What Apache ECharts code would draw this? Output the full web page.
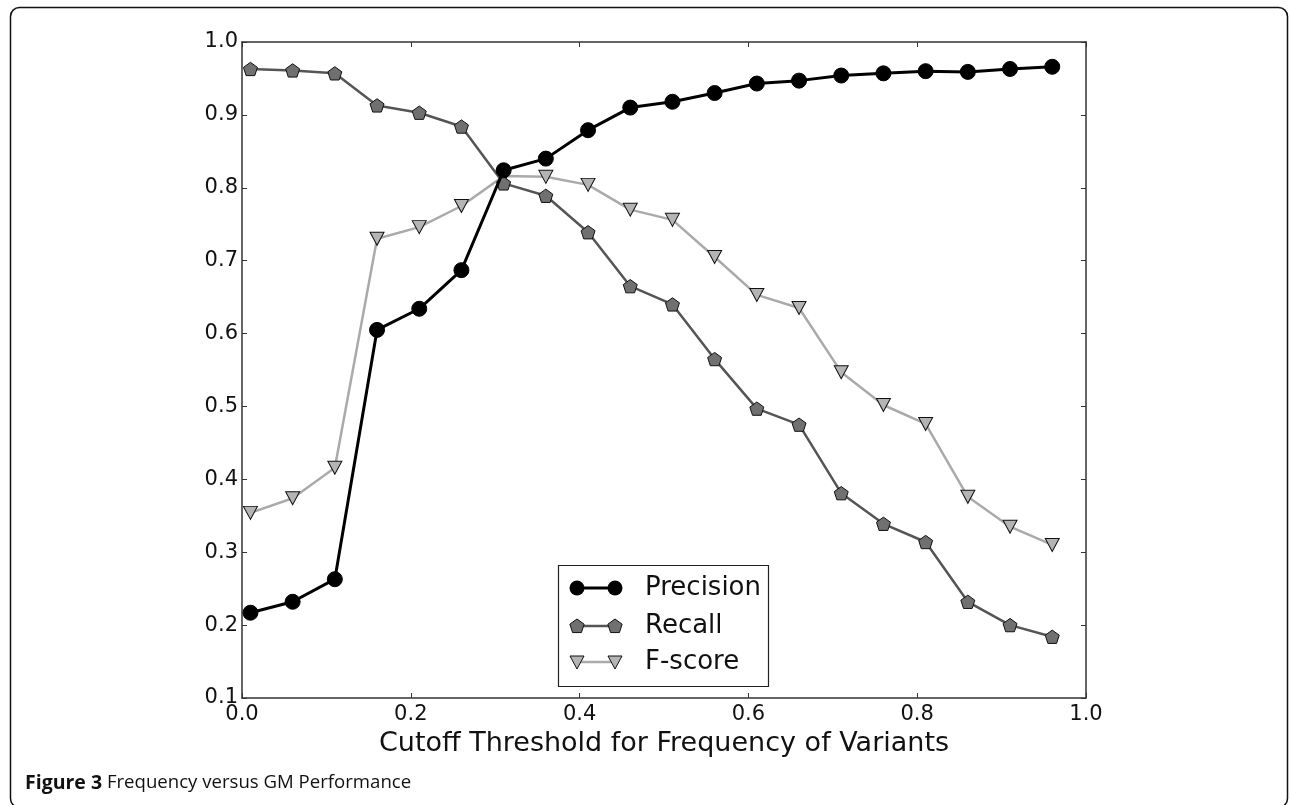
<!DOCTYPE html>
<html>
<head>
<meta charset="utf-8">
<script src="https://cdn.jsdelivr.net/npm/echarts@6/dist/echarts.min.js"></script>
<style>
html,body{margin:0;padding:0;background:#fff;}
#chart{width:1290px;height:805px;}
</style>
</head>
<body>
<div id="chart"></div>
<script>
// Data
var thresholds = [0.01,0.06,0.11,0.16,0.21,0.26,0.31,0.36,0.41,0.46,0.51,0.56,0.61,0.66,0.71,0.76,0.81,0.86,0.91,0.96];
var precision = [0.217,0.232,0.263,0.605,0.634,0.687,0.824,0.840,0.879,0.910,0.918,0.930,0.943,0.947,0.954,0.957,0.960,0.959,0.963,0.966];
var recall    = [0.963,0.961,0.957,0.913,0.903,0.884,0.806,0.789,0.739,0.665,0.640,0.565,0.497,0.475,0.381,0.339,0.314,0.232,0.200,0.184];
var fscore    = [0.354,0.374,0.416,0.730,0.746,0.775,0.816,0.815,0.804,0.770,0.756,0.705,0.653,0.635,0.547,0.502,0.476,0.376,0.335,0.310];
var xTicks = [0.0,0.2,0.4,0.6,0.8,1.0];
var yTicks = [0.1,0.2,0.3,0.4,0.5,0.6,0.7,0.8,0.9,1.0];
var seriesNames = ['Precision','Recall','F-score'];
var xTitle = 'Cutoff Threshold for Frequency of Variants';
var captionBold = 'Figure 3';
var captionText = 'Frequency versus GM Performance';

function pairs(ys){ return thresholds.map(function(x,i){ return [x, ys[i]]; }); }

var pentagon = 'path://M0,-1 L0.951,-0.309 L0.588,0.809 L-0.588,0.809 L-0.951,-0.309 Z';
var font = 'DejaVu Sans';
var axisColor = '#333';

var chart = echarts.init(document.getElementById('chart'), null, {renderer:'canvas'});

function xAxisCfg(pos, showLabel){
  return {
    type:'value', position:pos, min:0, max:1, interval:0.2,
    axisLine:{show:true, onZero:false, lineStyle:{color:axisColor, width:1.5}},
    axisTick:{show:true, inside:true, length:5, lineStyle:{color:axisColor, width:1}},
    splitLine:{show:false},
    axisLabel:{show:showLabel, color:'#111', fontFamily:font, fontSize:21, margin:6,
      formatter:function(v){ return v.toFixed(1); }},
    name: showLabel ? xTitle : '',
    nameLocation:'middle', nameGap:32,
    nameTextStyle:{color:'#111', fontFamily:font, fontSize:27}
  };
}
function yAxisCfg(pos, showLabel){
  return {
    type:'value', position:pos, min:0.1, max:1.0, interval:0.1,
    axisLine:{show:true, onZero:false, lineStyle:{color:axisColor, width:1.5}},
    axisTick:{show:true, inside:true, length:5, lineStyle:{color:axisColor, width:1}},
    splitLine:{show:false},
    axisLabel:{show:showLabel, color:'#111', fontFamily:font, fontSize:21, margin:4,
      formatter:function(v){ return v.toFixed(1); }}
  };
}

// legend drawn as graphic (matplotlib-style: marker at both ends)
var lgX = 558, lgY = 565, lgW = 210, lgH = 121;
var rows = [
  {name:seriesNames[0], y:588, line:'#000', lw:3, sym:'circle', fill:'#000'},
  {name:seriesNames[1], y:626, line:'#555', lw:2.5, sym:'pent', fill:'#707070'},
  {name:seriesNames[2], y:662, line:'#aaa', lw:2.5, sym:'tri', fill:'#b4b4b4'}
];
var graphics = [
  {type:'rect', shape:{x:10.5, y:7.5, width:1277, height:800, r:9}, style:{fill:'none', stroke:'#111', lineWidth:1.5}, silent:true},
  {type:'text', left:25, top:773, style:{
    text:'{b|' + captionBold + '} ' + captionText,
    font:'18.6px "Open Sans"', fill:'#111',
    rich:{b:{fontFamily:'Open Sans', fontWeight:'bold', fontSize:19.5, fill:'#111'}}
  }},
  {type:'rect', shape:{x:lgX+0.5, y:lgY+0.5, width:lgW, height:lgH}, style:{fill:'#fff', stroke:'#222', lineWidth:1.2}, z:10}
];
function pentPts(cx,cy,r){
  var p=[]; for(var k=0;k<5;k++){ var a=-Math.PI/2 + k*2*Math.PI/5; p.push([cx+r*Math.cos(a), cy+r*Math.sin(a)]); } return p;
}
rows.forEach(function(r){
  var x1=577, x2=615;
  graphics.push({type:'line', shape:{x1:x1,y1:r.y,x2:x2,y2:r.y}, style:{stroke:r.line, lineWidth:r.lw}, z:11});
  [x1,x2].forEach(function(cx){
    if(r.sym==='circle'){
      graphics.push({type:'circle', shape:{cx:cx, cy:r.y, r:7.5}, style:{fill:'#000'}, z:12});
    } else if(r.sym==='pent'){
      graphics.push({type:'polygon', shape:{points:pentPts(cx, r.y+0.5, 7.5)}, style:{fill:r.fill, stroke:'#111', lineWidth:1}, z:12});
    } else {
      graphics.push({type:'polygon', shape:{points:[[cx-7,r.y-6],[cx+7,r.y-6],[cx,r.y+7]]}, style:{fill:r.fill, stroke:'#111', lineWidth:1}, z:12});
    }
  });
  graphics.push({type:'text', x:645, y:r.y, style:{text:r.name, font:'26px "DejaVu Sans"', fill:'#111', verticalAlign:'middle'}, z:12});
});

chart.setOption({
  backgroundColor:'#fff',
  animation:false,
  grid:{left:242, right:204, top:42, bottom:107, containLabel:false},
  xAxis:[xAxisCfg('bottom', true), xAxisCfg('top', false)],
  yAxis:[yAxisCfg('left', true), yAxisCfg('right', false)],
  series:[
    {name:seriesNames[0], type:'line', data:pairs(precision), symbol:'circle', symbolSize:15,
     lineStyle:{color:'#000', width:3}, itemStyle:{color:'#000', borderColor:'#000', borderWidth:1}, z:3},
    {name:seriesNames[1], type:'line', data:pairs(recall), symbol:pentagon, symbolSize:14, symbolKeepAspect:true,
     lineStyle:{color:'#555', width:2.5}, itemStyle:{color:'#707070', borderColor:'#111', borderWidth:1}, z:2},
    {name:seriesNames[2], type:'line', data:pairs(fscore), symbol:'triangle', symbolRotate:180, symbolSize:[14,13],
     lineStyle:{color:'#aaa', width:2.5}, itemStyle:{color:'#b4b4b4', borderColor:'#111', borderWidth:1}, z:1}
  ],
  graphic:graphics
});
</script>
</body>
</html>
